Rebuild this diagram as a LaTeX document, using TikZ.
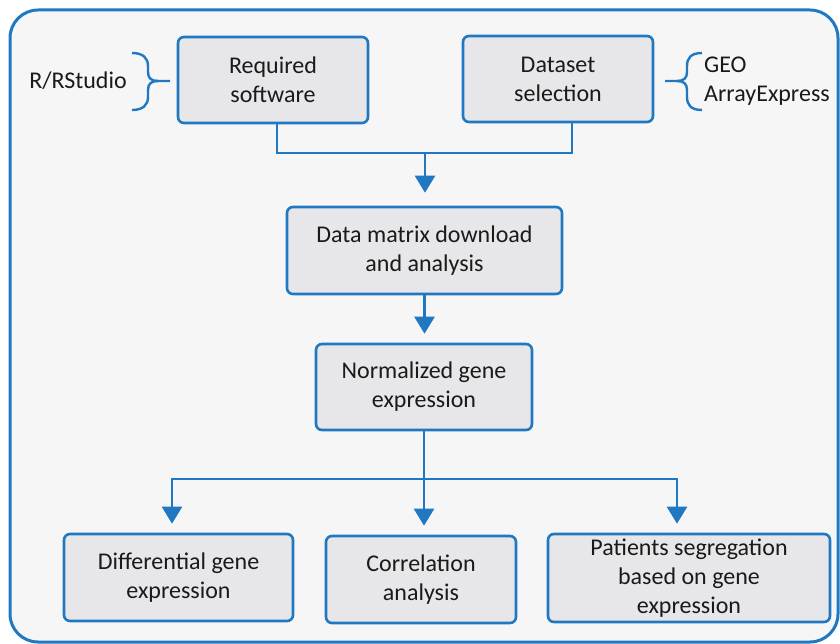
\documentclass[tikz,border=0pt]{standalone}
\usepackage{fontspec}
\setmainfont{Carlito}
\usetikzlibrary{arrows.meta}
\definecolor{fblue}{HTML}{1F78C1}
\definecolor{boxgray}{HTML}{E7E7E9}
\definecolor{bggray}{HTML}{F6F6F6}
\definecolor{txt}{HTML}{1A1A1A}
\tikzset{
  box/.style={draw=fblue, line width=2.6pt, fill=boxgray, rounded corners=6pt,
    align=center, font=\fontsize{24}{29}\selectfont, text=txt, inner sep=0pt},
  conn/.style={draw=fblue, line width=2.6pt},
  arr/.style={conn, -{Triangle[width=20pt,length=17pt]}, shorten >=9pt},
  lbl/.style={font=\fontsize{24}{29}\selectfont, text=txt, inner sep=0pt},
  brace/.style={draw=fblue, line width=2.4pt},
}
\begin{document}
\begin{tikzpicture}[x=1pt,y=-1pt]
\useasboundingbox (0,0) rectangle (840,644);
\draw[fblue, line width=3pt, fill=bggray, rounded corners=28pt] (10,10) rectangle (838,642);

\node[box, minimum width=190pt, minimum height=86pt] (req) at (273,80) {Required\\software};
\node[box, minimum width=190pt, minimum height=86pt] (ds) at (558,79) {Dataset\\selection};
\node[box, minimum width=275pt, minimum height=87pt] (dm) at (424.5,250.5) {Data matrix download\\and analysis};
\node[box, minimum width=216pt, minimum height=86pt] (norm) at (424,387) {Normalized gene\\expression};
\node[box, minimum width=229pt, minimum height=87pt] (diff) at (178.5,577.5) {Differential gene\\expression};
\node[box, minimum width=190pt, minimum height=87pt] (corr) at (421,579.5) {Correlation\\analysis};
\node[box, minimum width=282pt, minimum height=88pt] (pat) at (689,578) {Patients segregation\\based on gene\\expression};

\node[lbl] (rs) at (78,81) {R/RStudio};
\node[lbl, anchor=west, align=left] (geo) at (704,81) {GEO\\ArrayExpress};

% braces
\coordinate (b1) at (170,81);
\draw[brace] (132,53) .. controls (143,53) and (148,58) .. (148,66) -- (148,72)
  .. controls (148,78) and (151,81) .. (158,81) -- (b1);
\draw[brace] (132,110) .. controls (143,110) and (148,105) .. (148,97) -- (148,90)
  .. controls (148,84) and (151,81) .. (158,81);
\coordinate (b2) at (665,81);
\draw[brace] (702,53) .. controls (691,53) and (687,58) .. (687,66) -- (687,72)
  .. controls (687,78) and (684,81) .. (677,81) -- (b2);
\draw[brace] (702,110) .. controls (691,110) and (687,105) .. (687,97) -- (687,90)
  .. controls (687,84) and (684,81) .. (677,81);

% connectors
\coordinate (j1) at (425,153);
\draw[conn] ([xshift=4pt]req.south) |- (j1);
\draw[conn] ([xshift=14pt]ds.south) |- (j1);
\draw[arr, shorten >=13pt] (j1) -- (j1 |- dm.north);
\draw[arr] (dm.south) -- (dm.south |- norm.north);
\coordinate (j2) at (424,479);
\draw[arr] (norm.south) -- (norm.south |- corr.north);
\draw[arr] (j2) -| ([xshift=-6.5pt]diff.north);
\draw[arr] (j2) -| ([xshift=-12pt]pat.north);
\end{tikzpicture}
\end{document}
